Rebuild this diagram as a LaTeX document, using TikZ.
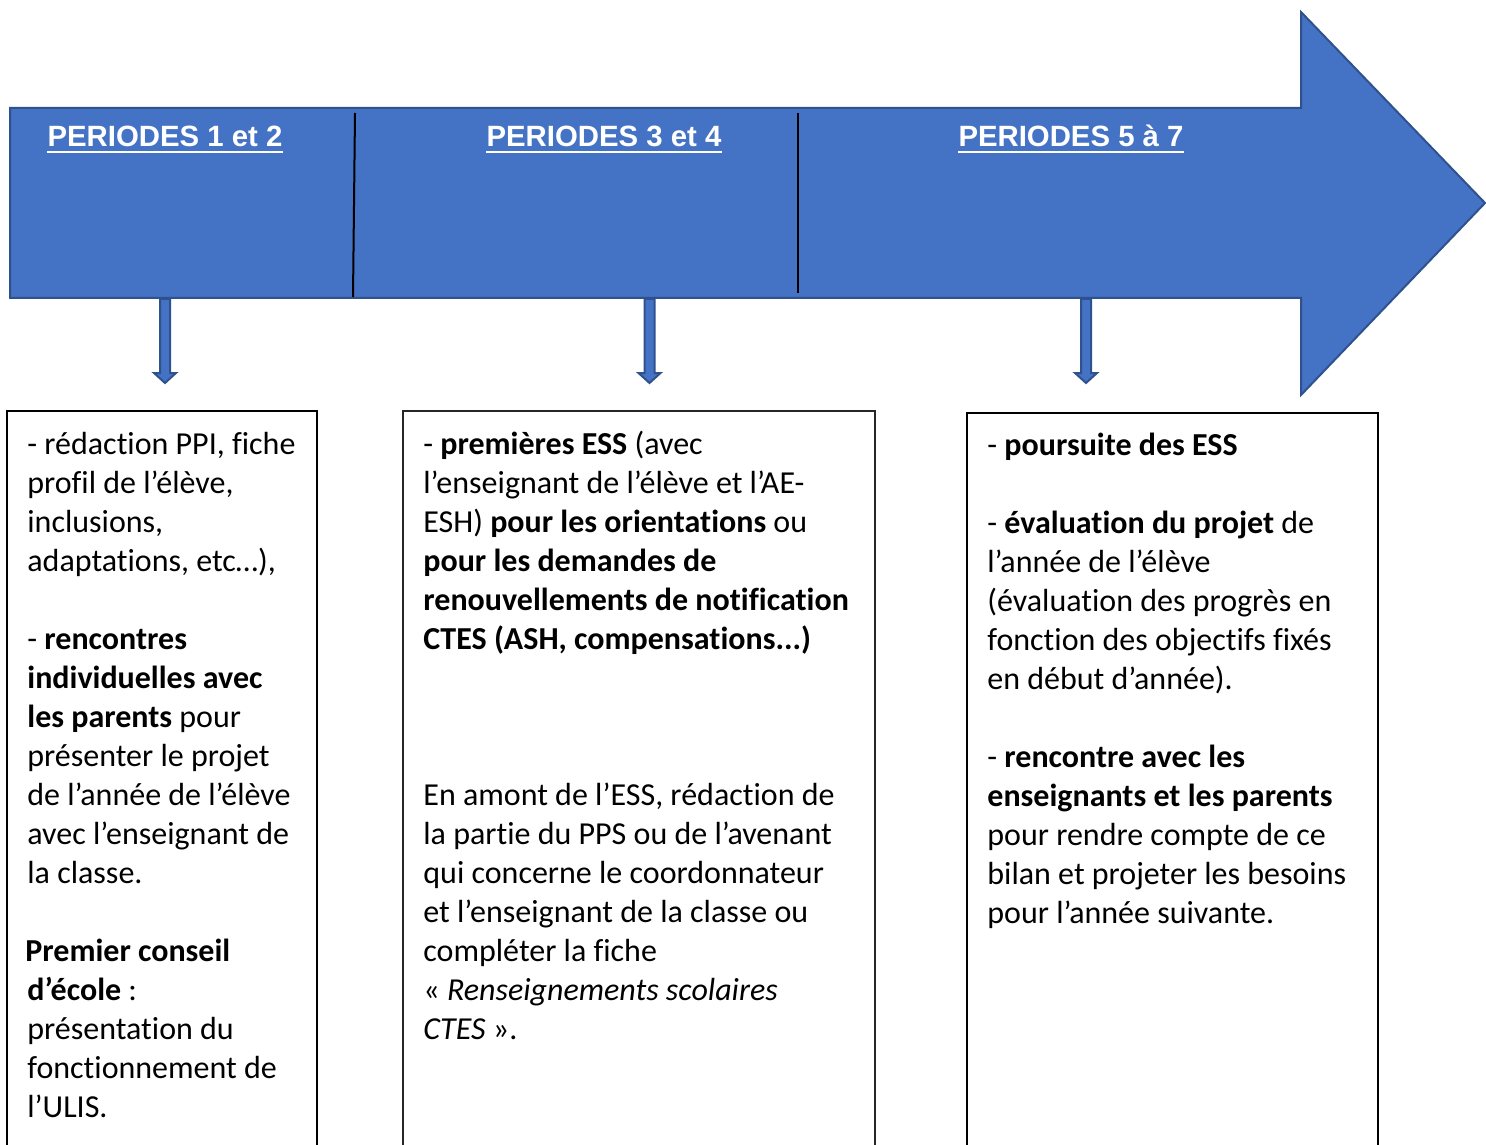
\documentclass[tikz,border=0pt]{standalone}
\usepackage{fontspec}
\setmainfont{Carlito}[Ligatures={NoCommon}]
\newfontfamily\hdrfont{Liberation Sans}
\definecolor{arrowblue}{RGB}{68,114,196}
\definecolor{arrowedge}{RGB}{47,82,143}
\begin{document}
\begin{tikzpicture}[x=0.5pt,y=-0.5pt,
  bodytext/.style={anchor=north west, inner sep=0pt, align=left, font={\fontsize{16}{19.5}\selectfont}},
  header/.style={anchor=base, inner sep=0pt, text=white, font={\hdrfont\bfseries\fontsize{14.67}{17}\selectfont}},
  ulinestyle/.style={draw=white, line width=1.1pt},
  bigarrow/.style={fill=arrowblue, draw=arrowedge, line width=1pt, line join=miter},
  smallarrow/.style={fill=arrowblue, draw=arrowedge, line width=1pt, line join=miter},
  divider/.style={draw=black, line width=1pt},
  boxline/.style={draw=black, line width=#1}
]
\useasboundingbox (0,0) rectangle (1486,1144);
\fill[white] (0,0) rectangle (1486,1144);

% big arrow
\filldraw[bigarrow] (10,108) -- (1301,108) -- (1301,12) -- (1485,203) -- (1301,395) -- (1301,298) -- (10,298) -- cycle;

% dividers
\coordinate (d1t) at (355,113);
\coordinate (d1b) at (353,297);
\coordinate (d2t) at (798,113);
\coordinate (d2b) at (798,293);
\draw[divider] (d1t) -- (d1b);
\draw[divider] (d2t) -- (d2b);

% headers
\node[header] (h1) at (165,147) {PERIODES 1 et 2};
\node[header] (h2) at (604,147) {PERIODES 3 et 4};
\node[header] (h3) at (1071,147) {PERIODES 5 à 7};
\foreach \h in {h1,h2,h3}{
  \draw[ulinestyle] ([yshift=-2.4pt]\h.base west) -- ([yshift=-2.4pt]\h.base east);
}

% small block arrows
\foreach \cx in {165,649.5,1086}{
  \begin{scope}[shift={(\cx,0)}]
    \filldraw[smallarrow] (-5,299) -- (5,299) -- (5,373) -- (11,373) -- (0,383) -- (-11,373) -- (-5,373) -- cycle;
  \end{scope}
}

% boxes (open at the bottom, continuing past the page)
\draw[boxline=1pt] (7,1150) -- (7,411) -- (317,411) -- (317,1150);
\draw[boxline=0.8pt, draw=black!85] (403,1150) -- (403,411) -- (875,411) -- (875,1150);
\draw[boxline=1.4pt] (967,1150) -- (967,413) -- (1378,413) -- (1378,1150);

% box texts
\node[bodytext] (t1) at (27,426.7) {\strut- rédaction PPI, fiche\\
profil de l’élève,\\
inclusions,\\
adaptations, etc…),\\
\\
- \textbf{rencontres}\\
\textbf{individuelles avec}\\
\textbf{les parents} pour\\
présenter le projet\\
de l’année de l’élève\\
avec l’enseignant de\\
la classe.\\
\\
\hspace*{-1pt}\textbf{Premier conseil}\\
\textbf{d’école} :\\
présentation du\\
fonctionnement de\\
l’ULIS.};

\node[bodytext] (t2) at (423,426.7) {\strut- \textbf{premières ESS} (avec\\
l’enseignant de l’élève et l’AE-\\
ESH) \textbf{pour les orientations} ou\\
\textbf{pour les demandes de}\\
\textbf{renouvellements de notification}\\
\textbf{CTES (ASH, compensations...)}\\
\\
\\
\\
En amont de l’ESS, rédaction de\\
la partie du PPS ou de l’avenant\\
qui concerne le coordonnateur\\
et l’enseignant de la classe ou\\
compléter la fiche\\
« \textit{Renseignements scolaires}\\
\textit{CTES} ».};

\node[bodytext] (t3) at (987,428.2) {\strut- \textbf{poursuite des ESS}\\
\\
- \textbf{évaluation du projet} de\\
l’année de l’élève\\
(évaluation des progrès en\\
fonction des objectifs fixés\\
en début d’année).\\
\\
- \textbf{rencontre avec les}\\
\textbf{enseignants et les parents}\\
pour rendre compte de ce\\
bilan et projeter les besoins\\
pour l’année suivante.};
\end{tikzpicture}
\end{document}
